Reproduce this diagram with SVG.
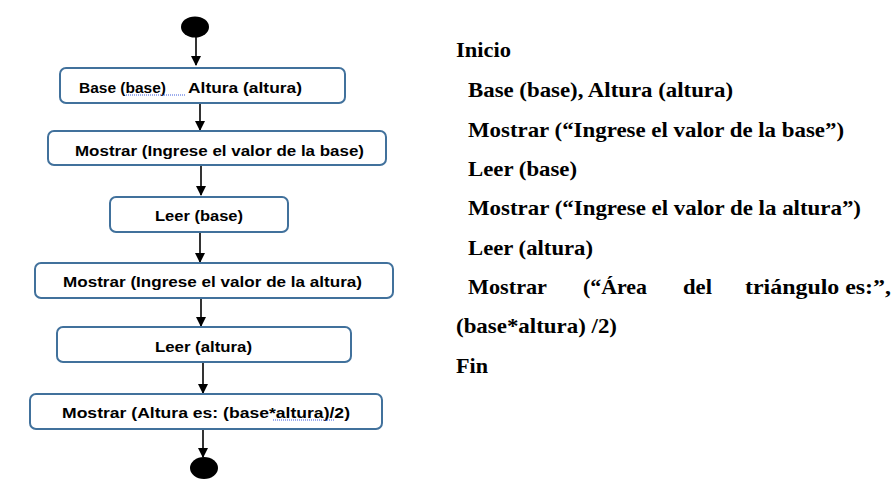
<svg xmlns="http://www.w3.org/2000/svg" width="892" height="485" viewBox="0 0 892 485">
<style>
.box{fill:#fff;stroke:#41719c;stroke-width:2}
.lt{font-family:"Liberation Sans",Arial,sans-serif;font-weight:bold;font-size:15px;fill:#000}
.rt{font-family:"Liberation Serif","Times New Roman",serif;font-weight:bold;font-size:21px;fill:#000}
.conn{stroke:#000;stroke-width:1.6;fill:none;marker-end:url(#ah)}
.sp{stroke:#3b5bdb;stroke-width:1;stroke-dasharray:1 1;fill:none}
</style>
<defs>
<marker id="ah" markerWidth="10" markerHeight="10" refX="9" refY="5" orient="auto" markerUnits="userSpaceOnUse">
<path d="M0,0 L10,5 L0,10 z" fill="#000"/>
</marker>
</defs>
<rect width="892" height="485" fill="#fff"/>
<g id="connectors">
<line class="conn" x1="196" y1="37" x2="196" y2="65"/>
<line class="conn" x1="200" y1="103" x2="200" y2="130"/>
<line class="conn" x1="201" y1="165" x2="201" y2="195"/>
<line class="conn" x1="200" y1="232" x2="200" y2="262"/>
<line class="conn" x1="201" y1="298" x2="201" y2="326"/>
<line class="conn" x1="203" y1="362" x2="203" y2="393"/>
<line class="conn" x1="203" y1="429" x2="203" y2="457"/>
</g>
<g id="start"><ellipse cx="195" cy="27" rx="14" ry="10.5" fill="#000"/></g>
<g id="n1">
<rect class="box" x="60" y="68" width="285" height="35" rx="6"/>
<text class="lt" x="79" y="93" textLength="87" lengthAdjust="spacingAndGlyphs">Base (base)</text>
<text class="lt" x="188" y="93" textLength="114" lengthAdjust="spacingAndGlyphs">Altura (altura)</text>
<line class="sp" x1="126" y1="95" x2="185" y2="95"/>
</g>
<g id="n2">
<rect class="box" x="48" y="131" width="338" height="34" rx="6"/>
<text class="lt" x="75" y="156" textLength="289" lengthAdjust="spacingAndGlyphs">Mostrar (Ingrese el valor de la base)</text>
</g>
<g id="n3">
<rect class="box" x="110" y="197" width="178" height="35" rx="6"/>
<text class="lt" x="155" y="221" textLength="88" lengthAdjust="spacingAndGlyphs">Leer (base)</text>
</g>
<g id="n4">
<rect class="box" x="35" y="263" width="358" height="35" rx="6"/>
<text class="lt" x="63" y="287" textLength="299" lengthAdjust="spacingAndGlyphs">Mostrar (Ingrese el valor de la altura)</text>
</g>
<g id="n5">
<rect class="box" x="57" y="327" width="294" height="35" rx="6"/>
<text class="lt" x="155" y="352" textLength="97" lengthAdjust="spacingAndGlyphs">Leer (altura)</text>
</g>
<g id="n6">
<rect class="box" x="30" y="394" width="352" height="35" rx="6"/>
<text class="lt" x="62" y="418" textLength="288" lengthAdjust="spacingAndGlyphs">Mostrar (Altura es: (base*altura)/2)</text>
<line class="sp" x1="273" y1="420" x2="335" y2="420"/>
</g>
<g id="end"><ellipse cx="204" cy="468" rx="14" ry="11" fill="#000"/></g>
<g id="pseudocode">
<text class="rt" x="456" y="57" textLength="55" lengthAdjust="spacingAndGlyphs">Inicio</text>
<text class="rt" x="468" y="97" textLength="265" lengthAdjust="spacingAndGlyphs">Base (base), Altura (altura)</text>
<text class="rt" x="468" y="137" textLength="376" lengthAdjust="spacingAndGlyphs">Mostrar (“Ingrese el valor de la base”)</text>
<text class="rt" x="468" y="176" textLength="109" lengthAdjust="spacingAndGlyphs">Leer (base)</text>
<text class="rt" x="468" y="215" textLength="393" lengthAdjust="spacingAndGlyphs">Mostrar (“Ingrese el valor de la altura”)</text>
<text class="rt" x="468" y="255" textLength="125" lengthAdjust="spacingAndGlyphs">Leer (altura)</text>
<text class="rt" x="468" y="294" textLength="79" lengthAdjust="spacingAndGlyphs">Mostrar</text>
<text class="rt" x="583" y="294" textLength="64" lengthAdjust="spacingAndGlyphs">(“Área</text>
<text class="rt" x="683" y="294" textLength="29" lengthAdjust="spacingAndGlyphs">del</text>
<text class="rt" x="745" y="294" textLength="146" lengthAdjust="spacingAndGlyphs">triángulo es:”,</text>
<text class="rt" x="456" y="333" textLength="161" lengthAdjust="spacingAndGlyphs">(base*altura) /2)</text>
<text class="rt" x="456" y="373" textLength="32" lengthAdjust="spacingAndGlyphs">Fin</text>
</g>
</svg>
